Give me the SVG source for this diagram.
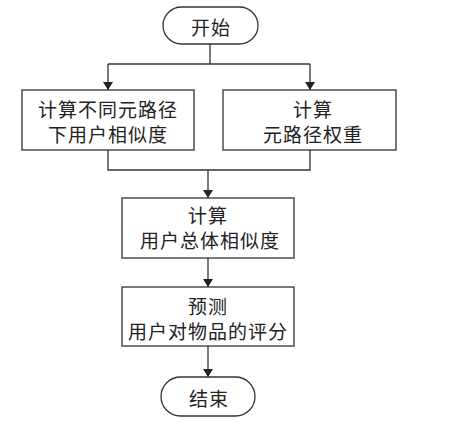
<svg xmlns="http://www.w3.org/2000/svg" width="450" height="428" viewBox="0 0 450 428">
<style>
.n{fill:#fff;stroke:#333;stroke-width:1.3}
.c{fill:none;stroke:#333;stroke-width:1.3}
text{font-family:"Noto Sans CJK SC","Liberation Sans",sans-serif;font-size:19px;fill:#222;text-anchor:middle;dominant-baseline:central;letter-spacing:1px}
</style>
<defs>
<marker id="a" viewBox="0 0 8 10" refX="8" refY="5" markerWidth="8" markerHeight="10" markerUnits="userSpaceOnUse" orient="auto">
<path d="M0,0L8,5L0,10z" fill="#222"/>
</marker>
</defs>
<rect width="450" height="428" fill="#fff"/>
<g id="connectors">
<path class="c" d="M210,44V64"/>
<path class="c" d="M108,64H310"/>
<path class="c" d="M108,64V90" marker-end="url(#a)"/>
<path class="c" d="M310,64V90" marker-end="url(#a)"/>
<path class="c" d="M108,150V170H310V150"/>
<path class="c" d="M208,170V198" marker-end="url(#a)"/>
<path class="c" d="M208,258V287" marker-end="url(#a)"/>
<path class="c" d="M208,346V377" marker-end="url(#a)"/>
</g>
<g id="start">
<rect class="n" x="163" y="7" width="95" height="37" rx="18.5"/>
<text x="211" y="26">开始</text>
</g>
<g id="n1">
<rect class="n" x="22" y="90" width="172" height="60"/>
<text x="108" y="108">计算不同元路径</text>
<text x="108" y="133">下用户相似度</text>
</g>
<g id="n2">
<rect class="n" x="223" y="90" width="173" height="60"/>
<text x="313" y="108">计算</text>
<text x="313" y="133">元路径权重</text>
</g>
<g id="n3">
<rect class="n" x="122" y="198" width="172" height="60"/>
<text x="208" y="214">计算</text>
<text x="210" y="239">用户总体相似度</text>
</g>
<g id="n4">
<rect class="n" x="122" y="287" width="172" height="59"/>
<text x="208" y="305">预测</text>
<text x="208" y="330">用户对物品的评分</text>
</g>
<g id="end">
<rect class="n" x="161" y="377" width="94" height="39" rx="19.5"/>
<text x="209" y="397">结束</text>
</g>
</svg>
